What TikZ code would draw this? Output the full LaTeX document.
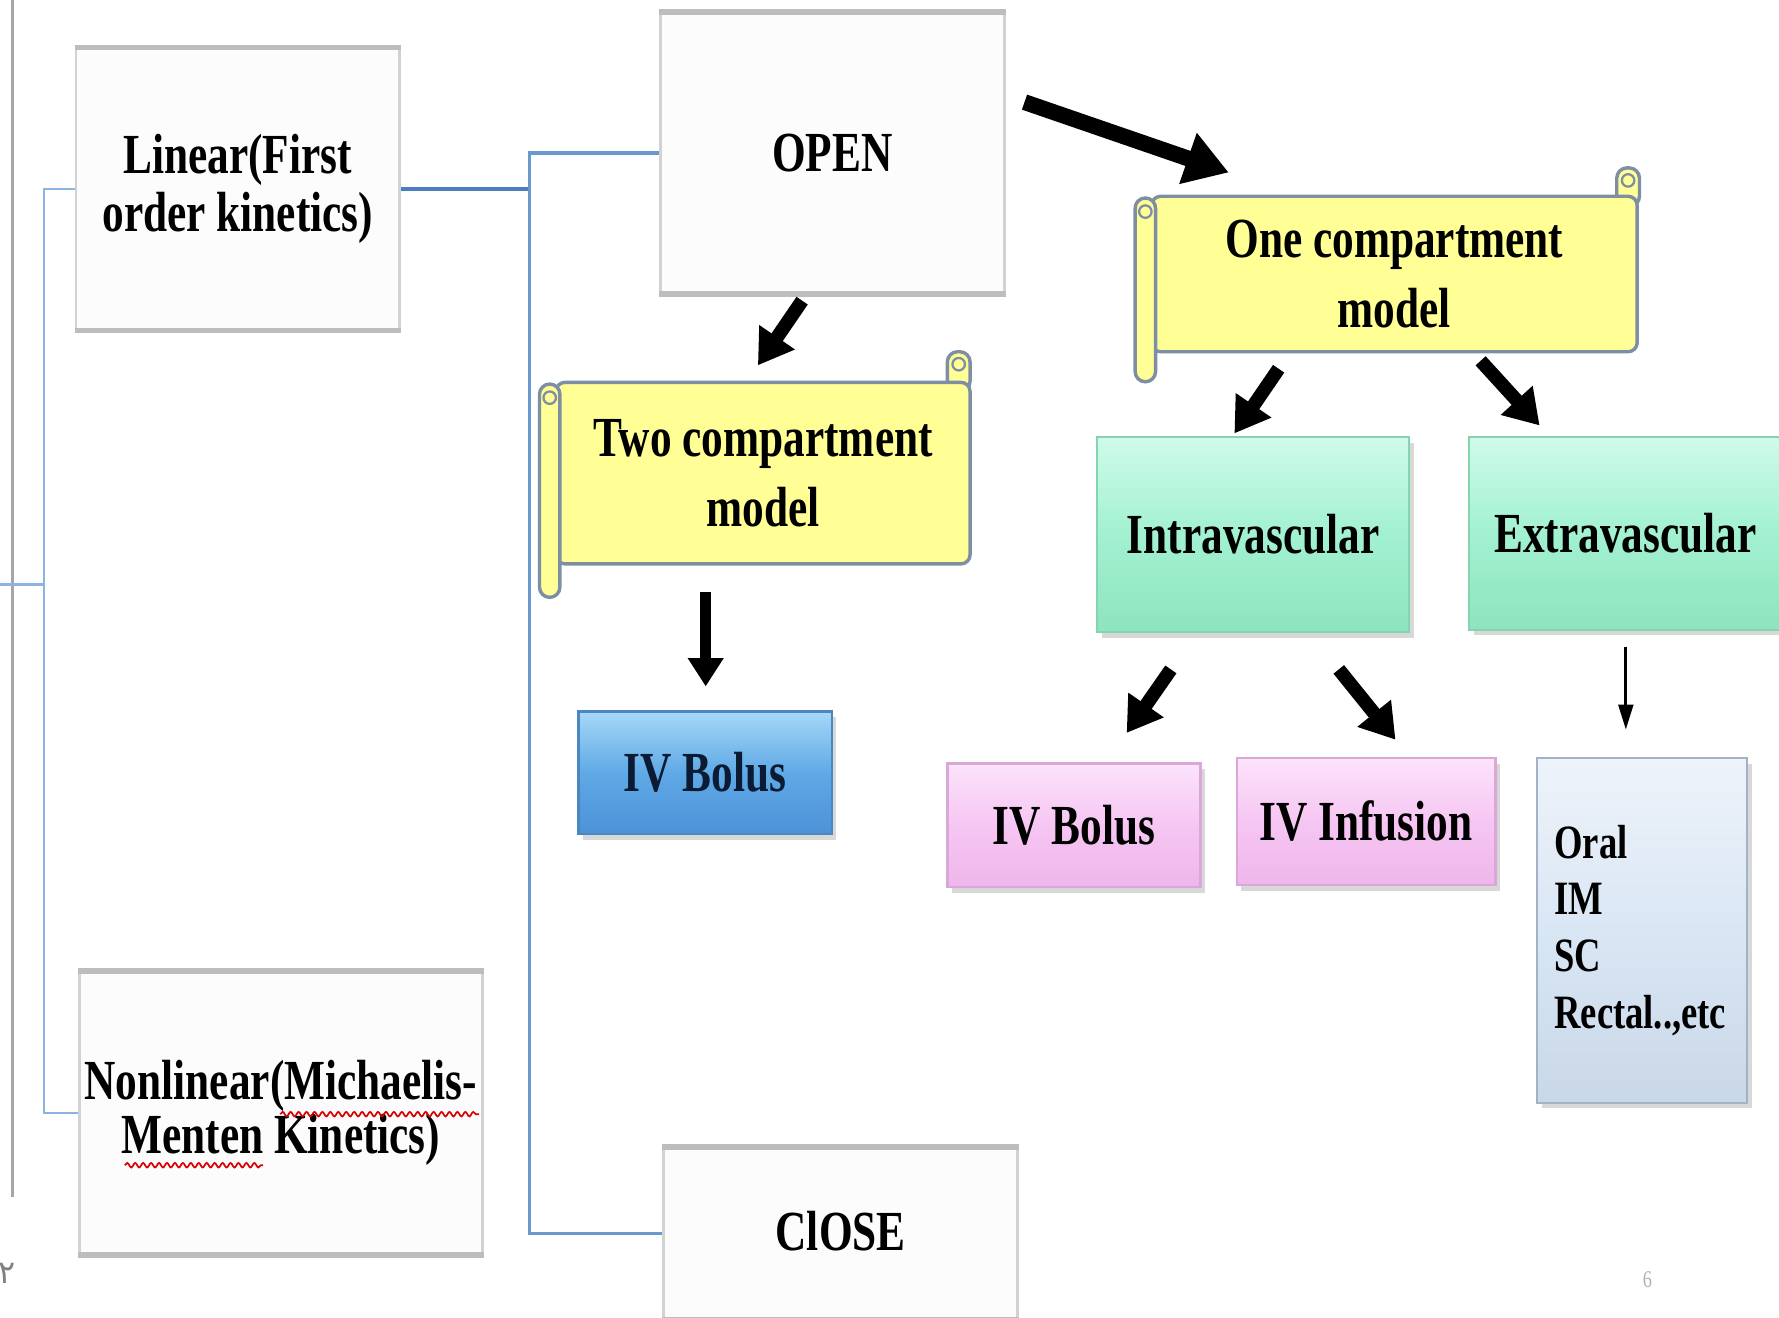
\documentclass[tikz,border=0pt]{standalone}
\usepackage{fontspec}
\setmainfont{Liberation Serif}[FakeStretch=0.765]
\newfontfamily\arabicdigits{DejaVu Sans}
\usetikzlibrary{arrows.meta,shadows,decorations.pathmorphing,calc}
\definecolor{plainfill}{HTML}{FCFCFC}
\definecolor{plainedge}{HTML}{D2D2D2}
\definecolor{plainedgeB}{HTML}{BDBDBD}
\definecolor{scrollfill}{HTML}{FFFF96}
\definecolor{scrolledge}{HTML}{7E8FA3}
\definecolor{greentop}{HTML}{CFFBEA}
\definecolor{greenmid}{HTML}{A2F1D1}
\definecolor{greenbot}{HTML}{8EE4BE}
\definecolor{greenedge}{HTML}{86D3B0}
\definecolor{pinktop}{HTML}{FCE3FB}
\definecolor{pinkmid}{HTML}{F6C6F3}
\definecolor{pinkbot}{HTML}{EEB6EB}
\definecolor{pinkedge}{HTML}{D9A8D6}
\definecolor{bluetop}{HTML}{A6D8F8}
\definecolor{bluemid}{HTML}{5FA9E6}
\definecolor{bluebot}{HTML}{4D92D8}
\definecolor{blueedge}{HTML}{4A86C0}
\definecolor{oraltop}{HTML}{EEF3FA}
\definecolor{oralmid}{HTML}{D9E6F4}
\definecolor{oralbot}{HTML}{C9D7E8}
\definecolor{oraledge}{HTML}{A3B2C4}
\definecolor{connblue}{HTML}{6A98D0}
\definecolor{connlight}{HTML}{8DB3E2}
\definecolor{conndark}{HTML}{4A7EBF}
\begin{document}
\begin{tikzpicture}[x=0.1mm,y=-0.1mm,
  lbl/.style={font=\bfseries\fontsize{14.2pt}{14.5pt}\selectfont, align=center, inner sep=0pt},
  plainbox/.style={lbl, rectangle, fill=plainfill, draw=plainedge, line width=0.25mm},
  thickedge/.style={draw=plainedgeB, line width=0.5mm},
  scrollbody/.style={lbl, rectangle, rounded corners=0.8mm, fill=scrollfill, draw=scrolledge, line width=0.3mm},
  roll/.style={fill=scrollfill, draw=scrolledge, line width=0.3mm, rounded corners=0.9mm},
  curl/.style={draw=scrolledge, line width=0.2mm},
  shade3d/.style={drop shadow={shadow xshift=0.4mm, shadow yshift=-0.5mm, opacity=0.3}},
  greenbox/.style={lbl, rectangle, draw=greenedge, line width=0.2mm, top color=greentop, bottom color=greenbot, middle color=greenmid, shade3d},
  pinkbox/.style={lbl, rectangle, draw=pinkedge, line width=0.2mm, top color=pinktop, bottom color=pinkbot, middle color=pinkmid, shade3d},
  bluebox/.style={lbl, rectangle, draw=blueedge, line width=0.2mm, top color=bluetop, bottom color=bluebot, middle color=bluemid, shade3d, text={rgb,255:red,11;green,27;blue,51}},
  oralbox/.style={lbl, rectangle, draw=oraledge, line width=0.2mm, top color=oraltop, bottom color=oralbot, middle color=oralmid, shade3d},
  connL/.style={draw=connlight, line width=0.25mm},
  connR/.style={draw=connblue, line width=0.3mm},
  connD/.style={draw=conndark, line width=0.35mm},
  bigarrow/.style={line width=1.2mm, -{Triangle[length=3.0mm,width=3.6mm]}},
  hugearrow/.style={line width=1.4mm, -{Triangle[length=3.8mm,width=4.5mm]}},
  midarrow/.style={line width=1.0mm, -{Triangle[length=2.5mm,width=3.0mm]}},
  thinarrow/.style={line width=0.25mm, -{Triangle[length=2.2mm,width=1.3mm]}},
  squiggle/.style={draw=red!85!black, line width=0.15mm, decorate, decoration={snake, amplitude=0.2mm, segment length=0.7mm}}
]
\clip (0,0) rectangle (1568,1161);
\fill[white] (0,0) rectangle (1568,1161);

% left gray edge line
\draw[gray!70, line width=0.3mm] (11,0) -- (11,1055);

% plain boxes
\node[plainbox, minimum width=28.5mm, minimum height=24.7mm] (lin) at (209.5,166.5) {Linear(First\\order kinetics)};
\node[plainbox, minimum width=35.5mm, minimum height=24.8mm] (nonlin) at (247.5,981) {Nonlinear(Michaelis-\\[-1pt]Menten Kinetics)};
\node[plainbox, minimum width=30.3mm, minimum height=24.6mm] (open) at (733.5,135) {OPEN};
\node[plainbox, minimum width=31.2mm, minimum height=15mm] (close) at (741,1087) {\raisebox{0.4mm}{ClOSE}};
\foreach \n in {lin,nonlin,open,close}{
  \draw[thickedge] (\n.north west) -- (\n.north east);
  \draw[thickedge] (\n.south west) -- (\n.south east);
}

% spell-check squiggles
\draw[squiggle] (247,982) -- (422,982);
\draw[squiggle] (110,1027) -- (232,1027);

% connectors
\coordinate (root) at (0,515);
\coordinate (jl) at (40,515);
\draw[connL] (lin.west) -- ++(-27,0) |- (nonlin.west);
\draw[connL] (root) -- (jl);
\coordinate (jr) at (468,166.5);
\draw[connD] (lin.east) -- (jr);
\draw[connR] (open.west) -- ++(-114,0) |- (close.west);

% two compartment scroll
\draw[roll] (835,345) rectangle (855,310);
\draw[curl] (845,321) circle (0.55mm);
\node[scrollbody, minimum width=36.5mm, minimum height=16mm] (two) at (672.5,417) {Two compartment\\[3pt]model};
\draw[roll] ($(two.north west)+(-13,3)$) rectangle ($(two.south west)+(5,28)$);
\draw[curl] ($(two.north west)+(-4,15)$) circle (0.55mm);

% one compartment scroll
\draw[roll] (1425,182) rectangle (1445,148);
\draw[curl] (1435,159) circle (0.55mm);
\node[scrollbody, minimum width=42.8mm, minimum height=13.7mm] (one) at (1229,241.5) {One compartment\\[3pt]model};
\draw[roll] ($(one.north west)+(-13,3)$) rectangle ($(one.south west)+(5,25)$);
\draw[curl] ($(one.north west)+(-4,15)$) circle (0.55mm);

% coloured boxes
\node[bluebox, minimum width=22.3mm, minimum height=10.8mm] (bolusB) at (621.5,681) {IV Bolus};
\node[greenbox, minimum width=27.5mm, minimum height=17.2mm] (intra) at (1104.5,471) {Intravascular};
\node[greenbox, minimum width=27.5mm, minimum height=17mm] (extra) at (1432.5,470) {Extravascular};
\node[pinkbox, minimum width=22.3mm, minimum height=10.9mm] (bolusP) at (946.5,727.5) {IV Bolus};
\node[pinkbox, minimum width=22.8mm, minimum height=11.2mm] (infus) at (1204,724) {IV Infusion};
\node[oralbox, minimum width=18.5mm, minimum height=30.4mm, text width=15.5mm, align=left,
      font=\bfseries\fontsize{12pt}{14.2pt}\selectfont] (oral) at (1447.5,820) {Oral\\IM\\SC\\Rectal..,etc};

% arrows
\coordinate (a1s) at (903,90);   \coordinate (a1e) at (1083,152);
\coordinate (a2s) at (707,265);  \coordinate (a2e) at (668,322);
\coordinate (a3s) at (622,522);  \coordinate (a3e) at (622,605);
\coordinate (a4s) at (1127,325); \coordinate (a4e) at (1088,382);
\coordinate (a5s) at (1305,318); \coordinate (a5e) at (1357,375);
\coordinate (a6s) at (1032,590); \coordinate (a6e) at (993,646);
\coordinate (a7s) at (1180,590); \coordinate (a7e) at (1230,652);
\coordinate (a8s) at (1433,570); \coordinate (a8e) at (1433,643);
\draw[hugearrow] (a1s) -- (a1e);
\draw[bigarrow] (a2s) -- (a2e);
\draw[midarrow] (a3s) -- (a3e);
\draw[bigarrow] (a4s) -- (a4e);
\draw[bigarrow] (a5s) -- (a5e);
\draw[bigarrow] (a6s) -- (a6e);
\draw[bigarrow] (a7s) -- (a7e);
\draw[thinarrow] (a8s) -- (a8e);

% page marks
\node[font=\arabicdigits\fontsize{8pt}{8pt}\selectfont, text=gray, inner sep=0pt] (pgA) at (6,1122) {٢};
\node[font=\fontsize{6pt}{6pt}\selectfont, text=gray!60, inner sep=0pt] (pgB) at (1452,1128) {6};
\end{tikzpicture}
\end{document}
